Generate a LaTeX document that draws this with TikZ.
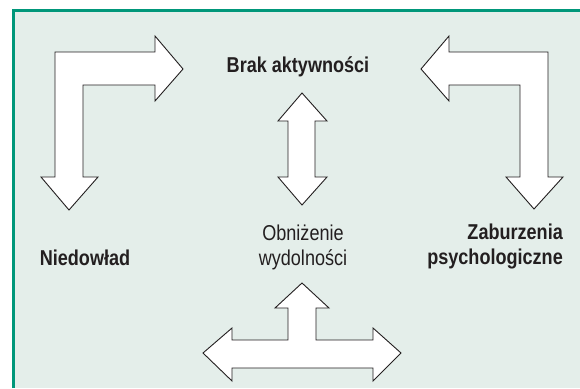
\documentclass[tikz,border=0pt]{standalone}
\usepackage{fontspec}
\newfontfamily\condfont[FakeStretch=0.84]{Liberation Sans}
\definecolor{frameteal}{RGB}{0,151,122}
\definecolor{panelbg}{RGB}{228,238,234}
\definecolor{inkgray}{RGB}{35,31,32}
\tikzset{
  blockarrow/.style={draw=inkgray,fill=white,line width=0.9pt,line join=miter},
  boldlabel/.style={font=\condfont\fontsize{21.5}{25}\selectfont\bfseries,text=inkgray,inner sep=0pt},
  thinlabel/.style={font=\condfont\fontsize{21.5}{25}\selectfont,text=inkgray,inner sep=0pt}
}
\begin{document}
\begin{tikzpicture}[x=1pt,y=1pt,yscale=-1,xscale=1]
\useasboundingbox (0,0) rectangle (580,388);

% Panel
\fill [panelbg] (13.5,10.5) rectangle (580,388);
\draw [frameteal,line width=3pt] (13.5,388) -- (13.5,10.5) -- (580,10.5);

% Text Node
\node (brak) [boldlabel,anchor=base] at (298,72) {Brak aktywności};
% Text Node
\node (niedowlad) [boldlabel,anchor=base] at (85,265) {Niedowład};
% Text Node
\node (wydolnosc) [thinlabel,anchor=base,align=center] at (303,265) {Obniżenie\\wydolności};
% Text Node
\node (zaburzenia) [boldlabel,anchor=base east,align=right] at (563,264) {Zaburzenia\\psychologiczne};

% Connection
\draw [blockarrow] (55,177) -- (55,52) -- (155,52) -- (155,36) -- (183,69) -- (155,101) -- (155,85) -- (83,85) -- (83,177) -- (98,177) -- (69,210) -- (41,177) -- cycle;
% Connection
\draw [blockarrow] (548,177) -- (548,52) -- (449,52) -- (449,36) -- (421,69) -- (449,101) -- (449,85) -- (520,85) -- (520,177) -- (506,177) -- (534,209) -- (563,177) -- cycle;
% Connection
\draw [blockarrow] (302,93) -- (327,121) -- (315,121) -- (315,177) -- (327,177) -- (302,205) -- (278,177) -- (288,177) -- (288,121) -- (278,121) -- cycle;
% Connection
\draw [blockarrow] (302,283) -- (329,308) -- (316,308) -- (316,340) -- (373,340) -- (373,328) -- (401,353) -- (373,381) -- (373,368) -- (232,368) -- (232,381) -- (203,353) -- (232,328) -- (232,340) -- (288,340) -- (288,308) -- (275,308) -- cycle;

\end{tikzpicture}
\end{document}
